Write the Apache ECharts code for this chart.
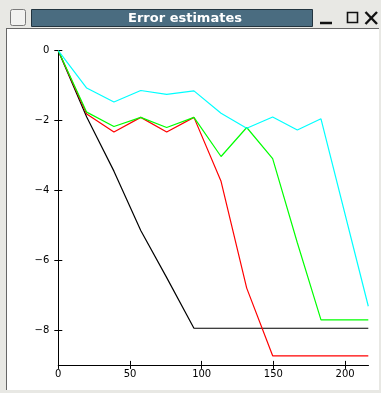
<!DOCTYPE html>
<html><head><meta charset="utf-8">
<script src="https://cdn.jsdelivr.net/npm/echarts@6/dist/echarts.min.js"></script>
<style>html,body{margin:0;padding:0;background:#e8e8e4;}#c{width:381px;height:393px;}</style>
</head><body><div id="c"></div>
<script>
const xValues = [0, 19.8, 38.8, 57.5, 75.6, 94.6, 113.5, 131.4, 149.5, 166.7, 183.2, 199.7, 216.2];
const blackValues = [0, -1.9, -3.45, -5.15, -6.5, -7.95, -7.95, -7.95, -7.95, -7.95, -7.95, -7.95, -7.95];
const redValues   = [0, -1.81, -2.33, -1.91, -2.33, -1.91, -3.74, -6.8, -8.74, -8.74, -8.74, -8.74, -8.74];
const greenValues = [0, -1.76, -2.17, -1.91, -2.2, -1.91, -3.03, -2.2, -3.09, -5.5, -7.71, -7.71, -7.71];
const cyanValues  = [0, -1.07, -1.47, -1.14, -1.25, -1.15, -1.79, -2.22, -1.9, -2.27, -1.95, null, -7.32];
const xTicks = [0, 50, 100, 150, 200];
const yTicks = [0, -2, -4, -6, -8];
const titleText = 'Error estimates';

const pairs = v => xValues.map((x, i) => [x, v[i]]);
const fmt = v => String(v).replace('-', '\u2212');
const chart = echarts.init(document.getElementById('c'), null, {renderer: 'canvas'});
const lab = {fontFamily: 'DejaVu Sans', fontSize: 10, color: '#000'};
function xa(inside, show) {
  return {type: 'value', min: 0, max: 216.2, position: 'bottom', offset: 0,
    axisLine: {show: true, onZero: false, lineStyle: {color: '#000', width: 1}},
    axisTick: {show: true, inside: inside, length: 4, customValues: xTicks, lineStyle: {color: '#000'}},
    axisLabel: {show: show, customValues: xTicks, margin: 5, formatter: fmt, ...lab},
    splitLine: {show: false}};
}
function ya(inside, show) {
  return {type: 'value', min: -9, max: 0, position: 'left', offset: 0,
    axisLine: {show: true, onZero: false, lineStyle: {color: '#000', width: 1}},
    axisTick: {show: true, inside: inside, length: 4, customValues: yTicks, lineStyle: {color: '#000'}},
    axisLabel: {show: show, customValues: yTicks, margin: 9, formatter: fmt, ...lab},
    splitLine: {show: false}};
}
const mk = (v, c) => ({type: 'line', data: pairs(v), showSymbol: false, symbol: 'none', connectNulls: true,
  lineStyle: {color: c, width: 1.2}, itemStyle: {color: c}, animation: false, z: 3});
chart.setOption({
  backgroundColor: '#e8e8e4',
  animation: false,
  grid: {left: 58.3, right: 12.7, top: 50.7, bottom: 28.1, containLabel: false},
  xAxis: [xa(false, true), xa(true, false)],
  yAxis: [ya(false, true), ya(true, false)],
  series: [mk(blackValues, '#000000'), mk(redValues, '#ff0000'), mk(greenValues, '#00ff00'), mk(cyanValues, '#00ffff')],
  graphic: [
    {type: 'rect', z: -10, shape: {x: 7, y: 29, width: 372, height: 361}, style: {fill: '#ffffff', stroke: null}},
    {type: 'line', z: -9, shape: {x1: 7, y1: 28.5, x2: 379, y2: 28.5}, style: {stroke: '#666', lineWidth: 1}},
    {type: 'line', z: -9, shape: {x1: 6.5, y1: 28, x2: 6.5, y2: 390}, style: {stroke: '#666', lineWidth: 1}},
    {type: 'rect', shape: {x: 10.5, y: 9.5, width: 15, height: 16, r: 2}, style: {fill: '#f2f2f0', stroke: '#7a7a7a', lineWidth: 1}},
    {type: 'rect', shape: {x: 31.5, y: 9.5, width: 281, height: 17}, style: {fill: '#4a6c80', stroke: '#22343f', lineWidth: 1}},
    {type: 'text', style: {text: titleText, x: 185, y: 18.5, align: 'center', verticalAlign: 'middle', fill: '#ffffff',
      font: 'bold 13px "DejaVu Sans"'}},
    {type: 'line', shape: {x1: 320, y1: 23, x2: 332, y2: 23}, style: {stroke: '#111', lineWidth: 2.5}},
    {type: 'rect', shape: {x: 347.5, y: 12.5, width: 10, height: 10}, style: {fill: null, stroke: '#111', lineWidth: 1.6}},
    {type: 'line', shape: {x1: 365.5, y1: 12, x2: 377, y2: 24}, style: {stroke: '#111', lineWidth: 2.4}},
    {type: 'line', shape: {x1: 377, y1: 12, x2: 365.5, y2: 24}, style: {stroke: '#111', lineWidth: 2.4}}
  ]
});
</script></body></html>
